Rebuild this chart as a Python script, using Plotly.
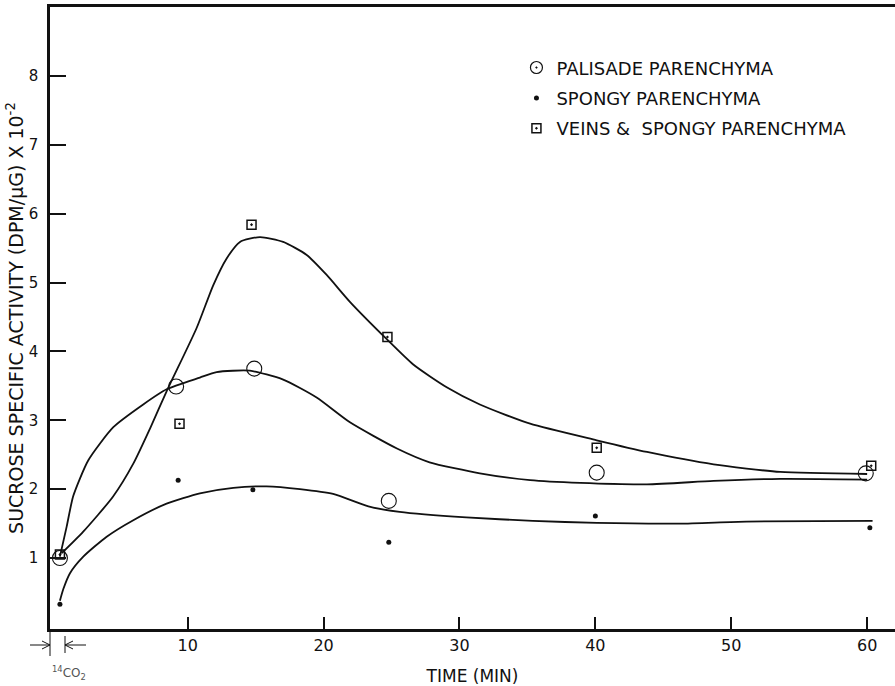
import plotly.graph_objects as go

# ---- data ----
palisade_t = [0.6, 9.15, 14.9, 24.8, 40.1, 59.9]
palisade_v = [1.00, 3.49, 3.75, 1.83, 2.24, 2.23]

spongy_t = [0.6, 9.3, 14.8, 24.8, 40.0, 60.2]
spongy_v = [0.33, 2.13, 1.99, 1.23, 1.61, 1.44]

veins_t = [0.6, 9.4, 14.7, 24.7, 40.1, 60.3]
veins_v = [1.05, 2.95, 5.84, 4.21, 2.60, 2.34]

# hand-drawn fitted curves
palisade_curve_t = [0.6, 1.1, 1.58, 2.69, 4.53, 6.73, 8.45, 10.9, 12.13, 14.58, 17.03, 19.49,
                    21.94, 25.4, 27.8, 31.5, 35.2, 38.9, 43.8, 48.7, 53.6, 60.0]
palisade_curve_v = [1.02, 1.46, 1.90, 2.42, 2.90, 3.23, 3.45, 3.62, 3.70, 3.72, 3.59, 3.33,
                    2.97, 2.59, 2.39, 2.23, 2.13, 2.09, 2.07, 2.12, 2.15, 2.14]

spongy_curve_t = [0.6, 0.85, 1.34, 2.32, 4.04, 6.0, 8.45, 10.9, 13.36, 15.8, 18.26, 20.7,
                  23.3, 25.6, 30.5, 35.4, 40.1, 46.2, 51.1, 60.4]
spongy_curve_v = [0.38, 0.55, 0.78, 1.02, 1.31, 1.55, 1.79, 1.94, 2.02, 2.04, 2.00, 1.93,
                  1.75, 1.67, 1.59, 1.54, 1.51, 1.50, 1.53, 1.54]

veins_curve_t = [0.73, 2.3, 4.5, 6.0, 7.23, 8.45, 10.66, 11.88, 12.87, 13.85, 15.32, 17.03,
                 18.76, 20.23, 21.94, 24.69, 26.6, 29.06, 31.5, 35.2, 40.1, 43.8, 48.7, 53.6, 60.0]
veins_curve_v = [1.07, 1.38, 1.89, 2.37, 2.88, 3.42, 4.34, 4.96, 5.35, 5.59, 5.66, 5.59,
                 5.40, 5.11, 4.72, 4.17, 3.81, 3.48, 3.23, 2.95, 2.71, 2.54, 2.36, 2.25, 2.22]

x_ticks = [10, 20, 30, 40, 50, 60]
y_ticks = [1, 2, 3, 4, 5, 6, 7, 8]

series_names = ["PALISADE PARENCHYMA", "SPONGY PARENCHYMA", "VEINS &amp;  SPONGY PARENCHYMA"]

FONT = "DejaVu Sans"
INK = "#111111"

fig = go.Figure()

for ct, cv in [(palisade_curve_t, palisade_curve_v),
               (spongy_curve_t, spongy_curve_v),
               (veins_curve_t, veins_curve_v)]:
    fig.add_trace(go.Scatter(x=ct, y=cv, mode="lines", showlegend=False, hoverinfo="skip",
                             line=dict(color=INK, width=1.8, shape="spline", smoothing=0.6)))

# data points
fig.add_trace(go.Scatter(x=palisade_t, y=palisade_v, mode="markers", showlegend=False,
                         marker=dict(symbol="circle-open", size=15, color=INK,
                                     line=dict(width=1.1, color=INK))))
fig.add_trace(go.Scatter(x=spongy_t, y=spongy_v, mode="markers", showlegend=False,
                         marker=dict(symbol="circle", size=5, color=INK)))
fig.add_trace(go.Scatter(x=veins_t, y=veins_v, mode="markers", showlegend=False,
                         marker=dict(symbol="square-open-dot", size=9, color=INK,
                                     line=dict(width=1.5, color=INK))))

# legend entries
legend_markers = [dict(symbol="circle-open-dot", size=12, color=INK, line=dict(width=1.2, color=INK)),
                  dict(symbol="circle", size=5, color=INK),
                  dict(symbol="square-open-dot", size=9, color=INK, line=dict(width=1.5, color=INK))]
for i, (nm, mk) in enumerate(zip(series_names, legend_markers)):
    fig.add_trace(go.Scatter(x=[None], y=[None], mode="markers", name=nm,
                             legendgroup="g%d" % i, marker=mk))

fig.update_layout(
    width=895, height=686,
    margin=dict(l=50, r=0, t=7, b=57),
    paper_bgcolor="white", plot_bgcolor="white",
    font=dict(family=FONT, color=INK),
    legend=dict(x=0.552, y=0.932, xanchor="left", yanchor="top",
                font=dict(size=18, family=FONT, color=INK),
                bgcolor="rgba(0,0,0,0)", tracegroupgap=4, itemwidth=30),
    xaxis=dict(range=[-0.13, 62.05], showgrid=False, zeroline=False,
               showline=True, linecolor=INK, linewidth=2.5, mirror=True,
               ticks="inside", ticklen=12, tickwidth=2, tickcolor=INK,
               tickvals=x_ticks, ticktext=[str(v) for v in x_ticks],
               tickfont=dict(size=16, family=FONT, color=INK),
               title=dict(text="TIME (MIN)", font=dict(size=17, family=FONT, color=INK), standoff=17)),
    yaxis=dict(range=[-0.03, 9.0], showgrid=False, zeroline=False,
               showline=True, linecolor=INK, linewidth=2.5, mirror=False,
               ticks="inside", ticklen=16, tickwidth=2, tickcolor=INK,
               tickvals=y_ticks, ticktext=[str(v) for v in y_ticks],
               tickfont=dict(size=15, family=FONT, color=INK), ticklabelstandoff=6,
               title=dict(text="SUCROSE SPECIFIC ACTIVITY (DPM/μG) X 10<sup>-2</sup>",
                          font=dict(size=19, family=FONT, color=INK), standoff=1)),
)

# 14CO2 pulse marker below the axis (paper coordinates)
def px_x(p):
    return (p - 50) / 845.0

def px_y(p):
    return (629 - p) / 622.0

ay = 645
lines = [
    (30, ay, 50, ay),   # right-pointing arrow shaft
    (65, ay, 86, ay),   # left-pointing arrow shaft
    (50, 629, 50, 656),
    (65, 636, 65, 653),
]
for x0, y0, x1, y1 in lines:
    fig.add_shape(type="line", xref="paper", yref="paper",
                  x0=px_x(x0), y0=px_y(y0), x1=px_x(x1), y1=px_y(y1),
                  line=dict(color=INK, width=1))
heads = [((42, ay - 4), (50, ay), (42, ay + 4)),
         ((73, ay - 4), (65, ay), (73, ay + 4))]
for a, b, c in heads:
    path = "M %f,%f L %f,%f L %f,%f" % (px_x(a[0]), px_y(a[1]), px_x(b[0]), px_y(b[1]),
                                        px_x(c[0]), px_y(c[1]))
    fig.add_shape(type="path", xref="paper", yref="paper", path=path,
                  line=dict(color=INK, width=1))

fig.add_annotation(x=px_x(50), y=px_y(673), xref="paper", yref="paper", showarrow=False,
                   yanchor="middle",
                   text="<sup>14</sup>CO<sub>2</sub>", font=dict(size=12, family=FONT, color="#555555"))

fig.write_html("out.html")
